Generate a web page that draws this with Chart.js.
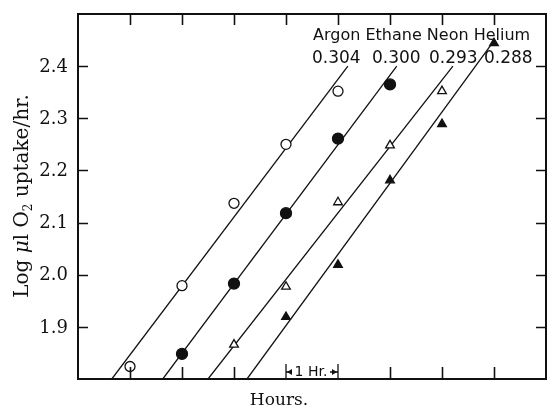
<!DOCTYPE html>
<html>
<head>
<meta charset="utf-8">
<script src="https://cdn.jsdelivr.net/npm/chart.js@4.4.0/dist/chart.umd.min.js"></script>
<style>
  html, body { margin: 0; padding: 0; background: #fff; overflow: hidden; }
  #wrap { width: 547px; height: 410px; }
</style>
</head>
<body>
<div id="wrap"><canvas id="chart"></canvas></div>
<script>
// axis ticks
const hourTicks = [1, 2, 3, 4, 5, 6, 7, 8];
const logTicks = [1.9, 2.0, 2.1, 2.2, 2.3, 2.4];

// legend text
const gases = ["Argon", "Ethane", "Neon", "Helium"];
const slopes = ["0.304", "0.300", "0.293", "0.288"];

// measured points (hours, log ul O2 uptake/hr)
const argonHours = [1, 2, 3, 4, 5];
const argonLog = [1.824, 1.979, 2.137, 2.250, 2.352];
const ethaneHours = [2, 3, 4, 5, 6];
const ethaneLog = [1.848, 1.983, 2.118, 2.261, 2.365];
const neonHours = [3, 4, 5, 6, 7];
const neonLog = [1.866, 1.977, 2.139, 2.248, 2.352];
const heliumHours = [4, 5, 6, 7, 8];
const heliumLog = [1.919, 2.019, 2.181, 2.289, 2.444];

// fitted lines: where each leaves the bottom axis and where it stops
const argonFitHours = [0.65, 5.19];
const argonFitLog = [1.80, 2.40];
const ethaneFitHours = [1.63, 6.13];
const ethaneFitLog = [1.80, 2.40];
const neonFitHours = [2.50, 7.21];
const neonFitLog = [1.80, 2.40];
const heliumFitHours = [3.25, 7.96];
const heliumFitLog = [1.80, 2.443];

const ink = "#111";
const pts = (xs, ys) => xs.map((x, i) => ({ x, y: ys[i] }));

const marker = (label, xs, ys, style, fill, r) => ({
  label,
  data: pts(xs, ys),
  showLine: false,
  pointStyle: style,
  pointRadius: r,
  pointBackgroundColor: fill,
  pointBorderColor: ink,
  pointBorderWidth: 1.3,
  order: 0
});

const fitLine = (xs, ys) => ({
  data: pts(xs, ys),
  showLine: true,
  pointRadius: 0,
  borderColor: ink,
  borderWidth: 1.3,
  order: 1
});

// frame, inward ticks, labels, titles and the hand-lettered legend
const decorations = {
  id: "decorations",
  afterDatasetsDraw(chart) {
    const { ctx, chartArea: a, scales: { x, y } } = chart;
    ctx.save();
    ctx.strokeStyle = ink;
    ctx.fillStyle = ink;
    ctx.lineWidth = 2;
    ctx.strokeRect(a.left, a.top, a.right - a.left, a.bottom - a.top);

    ctx.lineWidth = 1.6;
    ctx.beginPath();
    hourTicks.forEach(h => {
      const px = Math.round(x.getPixelForValue(h)) + 0.5;
      ctx.moveTo(px, a.top); ctx.lineTo(px, a.top + 11);
      if (h !== 4 && h !== 5) { ctx.moveTo(px, a.bottom); ctx.lineTo(px, a.bottom - 12); }
    });
    logTicks.forEach(v => {
      const py = Math.round(y.getPixelForValue(v)) + 0.5;
      ctx.moveTo(a.left, py); ctx.lineTo(a.left + 10, py);
      ctx.moveTo(a.right, py); ctx.lineTo(a.right - 10, py);
    });
    ctx.stroke();

    // y tick labels
    ctx.font = "18px 'DejaVu Serif'";
    ctx.textAlign = "right";
    ctx.textBaseline = "middle";
    logTicks.forEach(v => ctx.fillText(v.toFixed(1), a.left - 10, y.getPixelForValue(v) + 1));

    // "1 Hr." scale bar between hours 4 and 5
    const h4 = x.getPixelForValue(4), h5 = x.getPixelForValue(5);
    const by = a.bottom - 7;
    ctx.lineWidth = 1.3;
    ctx.beginPath();
    ctx.moveTo(h4, a.bottom); ctx.lineTo(h4, a.bottom - 15);
    ctx.moveTo(h5, a.bottom); ctx.lineTo(h5, a.bottom - 15);
    ctx.moveTo(h4, by); ctx.lineTo(h4 + 6, by);
    ctx.moveTo(h5 - 8, by); ctx.lineTo(h5, by);
    ctx.stroke();
    ctx.beginPath();
    ctx.moveTo(h4 + 1, by); ctx.lineTo(h4 + 6, by - 3); ctx.lineTo(h4 + 6, by + 3); ctx.closePath();
    ctx.moveTo(h5 - 1, by); ctx.lineTo(h5 - 6, by - 3); ctx.lineTo(h5 - 6, by + 3); ctx.closePath();
    ctx.fill();
    ctx.font = "14px 'DejaVu Sans'";
    ctx.textAlign = "center";
    ctx.textBaseline = "alphabetic";
    ctx.fillText("1 Hr.", (h4 + h5) / 2 - 1, a.bottom - 3);

    // x title
    ctx.font = "17px 'DejaVu Serif'";
    ctx.fillText("Hours.", 279, 405);

    // y title, rotated, with italic mu and subscript 2
    const parts = [
      { t: "Log ", f: "20px 'DejaVu Serif'", dy: 0 },
      { t: "\u03bc", f: "italic 20px 'DejaVu Serif'", dy: 0 },
      { t: "l O", f: "20px 'DejaVu Serif'", dy: 0 },
      { t: "2", f: "12px 'DejaVu Serif'", dy: 4 },
      { t: " uptake/hr.", f: "20px 'DejaVu Serif'", dy: 0 }
    ];
    let total = 0;
    parts.forEach(p => { ctx.font = p.f; p.w = ctx.measureText(p.t).width; total += p.w; });
    ctx.translate(28, 196);
    ctx.rotate(-Math.PI / 2);
    ctx.textAlign = "left";
    let cx = -total / 2;
    parts.forEach(p => { ctx.font = p.f; ctx.fillText(p.t, cx, p.dy); cx += p.w; });
    ctx.restore();

    // legend
    ctx.save();
    ctx.fillStyle = ink;
    ctx.textAlign = "left";
    ctx.textBaseline = "alphabetic";
    ctx.font = "16px 'DejaVu Sans'";
    ctx.fillText(gases.join(" "), 313, 40);
    const numX = [312, 372, 429, 484];
    ctx.font = "17px 'DejaVu Sans'";
    slopes.forEach((s, i) => ctx.fillText(s, numX[i], 63));
    ctx.restore();
  }
};

new Chart(document.getElementById("chart"), {
  type: "scatter",
  data: {
    datasets: [
      marker("Argon", argonHours, argonLog, "circle", "#fff", 5),
      marker("Ethane", ethaneHours, ethaneLog, "circle", ink, 5.5),
      marker("Neon", neonHours, neonLog, "triangle", "#fff", 5),
      marker("Helium", heliumHours, heliumLog, "triangle", ink, 5),
      fitLine(argonFitHours, argonFitLog),
      fitLine(ethaneFitHours, ethaneFitLog),
      fitLine(neonFitHours, neonFitLog),
      fitLine(heliumFitHours, heliumFitLog)
    ]
  },
  options: {
    responsive: true,
    maintainAspectRatio: false,
    animation: false,
    layout: { autoPadding: false, padding: { top: 14, right: 1, left: 0, bottom: 0 } },
    plugins: { legend: { display: false }, tooltip: { enabled: false } },
    scales: {
      x: {
        type: "linear",
        min: 0,
        max: 9,
        grid: { display: false, drawTicks: false },
        border: { display: false },
        ticks: { display: false },
        afterFit(s) { s.height = 31; }
      },
      y: {
        min: 1.8,
        max: 2.5,
        grid: { display: false, drawTicks: false },
        border: { display: false },
        ticks: { display: false },
        afterFit(s) { s.width = 78; }
      }
    }
  },
  plugins: [decorations]
});
</script>
</body>
</html>
